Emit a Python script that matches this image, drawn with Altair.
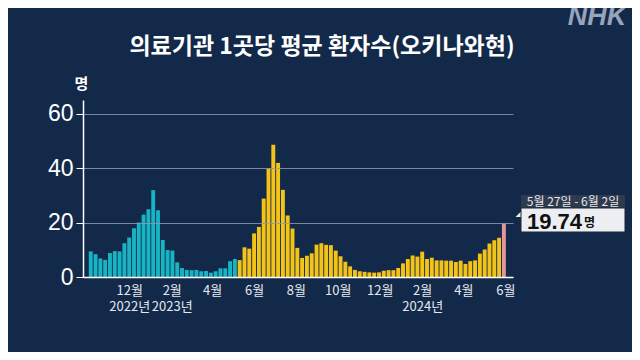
import altair as alt
import numpy as np
import pandas as pd

# ---------------- data ----------------
first_week_start = "2022-10-03"
n_weeks = 87
values = [
    9.4, 8.4, 6.8, 6.3, 8.8, 9.5, 9.4, 12.4, 14.5, 17.9, 20.0, 22.9, 24.9, 31.9, 24.5,
    13.6, 9.9, 9.7, 5.4, 3.3, 2.6, 2.5, 2.6, 2.1, 2.2, 1.6, 2.1, 3.2, 3.2, 5.8, 6.6,
    6.2, 10.9, 10.4, 16.0, 18.4, 28.8, 39.8, 48.6, 41.9,
    32.0, 22.6, 17.8, 10.7, 7.0, 7.8, 8.7, 11.9, 12.4, 11.8, 11.7, 9.7, 7.6, 5.6, 3.9,
    2.6, 2.1, 1.9,
    1.7, 1.6, 1.7, 2.3, 2.5, 2.5, 3.3, 5.0, 6.6, 7.9, 7.5, 9.3, 6.6, 7.1, 6.1, 6.1,
    6.0, 6.0, 5.5, 6.0, 4.8, 5.8, 6.1, 8.6, 10.1, 12.3, 13.5, 14.4, 19.74,
]
season_change = "2023-05-08"
group_names = ["before", "after", "latest"]
group_colors = ["#17b4c4", "#f3c318", "#e8949c"]

tick_dates = ["2022-12-01", "2023-02-01", "2023-04-01", "2023-06-01", "2023-08-01",
              "2023-10-01", "2023-12-01", "2024-02-01", "2024-04-01", "2024-06-01"]
tick_labels = [["12월", "2022년"], ["2월", "2023년"], ["4월"], ["6월"], ["8월"],
               ["10월"], ["12월"], ["2월", "2024년"], ["4월"], ["6월"]]
y_ticks = [0, 20, 40, 60]
x_domain = ["2022-10-02", "2024-06-05"]

title_text = "의료기관 1곳당 평균 환자수(오키나와현)"
unit_text = "명"
logo_text = "NHK"
annotation_period = "5월 27일 - 6월 2일"

# ---------------- build tables ----------------
starts = pd.date_range(first_week_start, periods=n_weeks, freq="7D")
df = pd.DataFrame({"start": starts, "value": values})
df["mid"] = (df["start"] + pd.Timedelta(days=3)).dt.strftime("%Y-%m-%d")
df["group"] = np.where(df["start"] < pd.Timestamp(season_change), "before", "after")
df.loc[df.index[-1], "group"] = "latest"
df = df.drop(columns=["start"])


def ms(d):
    return int(pd.Timestamp(d, tz="UTC").value // 10**6)


tick_ms = [ms(d) for d in tick_dates]


def js_label(lines):
    if len(lines) == 1:
        return "'" + lines[0] + "'"
    return "[" + ",".join("'" + s + "'" for s in lines) + "]"


label_expr = "''"
for t, lab in reversed(list(zip(tick_ms, tick_labels))):
    label_expr = f"(abs(time(datum.value) - {t}) < 3600000) ? {js_label(lab)} : ({label_expr})"

BG = "#13294a"
KR = "Noto Sans CJK KR"
NUM = "Liberation Sans"

bars = alt.Chart(df).mark_bar(width=3.9).encode(
    x=alt.X(
        "mid:T",
        scale=alt.Scale(type="utc", domain=[ms(x_domain[0]), ms(x_domain[1])]),
        axis=alt.Axis(
            values=tick_ms, labelExpr=label_expr, title=None, ticks=False, grid=False,
            domainColor="#ffffff", domainWidth=1.5, labelColor="#e4e8ee", labelFont=KR,
            labelFontSize=13, labelLineHeight=16, labelPadding=7, labelOverlap=False,
            labelFlush=False, zindex=1,
        ),
    ),
    y=alt.Y(
        "value:Q",
        scale=alt.Scale(domain=[0, 65], nice=False, zero=True),
        axis=alt.Axis(
            values=y_ticks, title=None, grid=True, gridColor="#8e98ab", gridWidth=1,
            gridOpacity=0.85, domainColor="#ffffff", domainWidth=1.5, tickColor="#ffffff",
            tickSize=7, labelColor="#ffffff", labelFont=NUM, labelFontSize=23,
            labelPadding=3, zindex=1,
        ),
    ),
    color=alt.Color("group:N", scale=alt.Scale(domain=group_names, range=group_colors),
                    legend=None),
)

ann = pd.DataFrame({
    "period": [annotation_period],
    "value": [f"{values[-1]:.2f}"],
    "unit": [unit_text],
    "title": [title_text],
    "logo": [logo_text],
})
base = alt.Chart(ann)

title = base.mark_text(font=KR, fontSize=23, fontWeight="bold", color="#ffffff",
                       align="center", baseline="middle").encode(
    x=alt.value(239), y=alt.value(-53), text="title:N")
logo = base.mark_text(font=NUM, fontSize=27, fontWeight=900, fontStyle="italic",
                      color="#98a4ba", align="center", baseline="middle").encode(
    x=alt.value(514), y=alt.value(-83), text="logo:N")
unit = base.mark_text(font=KR, fontSize=15, fontWeight="bold", color="#ffffff",
                      align="center", baseline="middle").encode(
    x=alt.value(-1.5), y=alt.value(-16), text="unit:N")

strip = base.mark_rect(color="#2f3a4c").encode(
    x=alt.value(438), x2=alt.value(542), y=alt.value(95), y2=alt.value(108))
box = base.mark_rect(fill="#eceef2", stroke="#1c2636", strokeWidth=1).encode(
    x=alt.value(438), x2=alt.value(542), y=alt.value(108), y2=alt.value(132))
pointer = base.mark_point(shape="M1,-1L1,1L-1,1Z", filled=True, size=25,
                          color="#eceef2", opacity=1).encode(
    x=alt.value(435), y=alt.value(114.5))
period_txt = base.mark_text(font=KR, fontSize=12, color="#e6e9ee", align="center",
                            baseline="middle").encode(
    x=alt.value(490), y=alt.value(101.5), text="period:N")
value_txt = base.mark_text(font=NUM, fontSize=22, fontWeight="bold", color="#111111",
                           align="left", baseline="alphabetic").encode(
    x=alt.value(444), y=alt.value(128.5), text="value:N")
unit_txt = base.mark_text(font=KR, fontSize=12, fontWeight="bold", color="#111111",
                          align="left", baseline="alphabetic").encode(
    x=alt.value(501), y=alt.value(126.5), text="unit:N")

chart = alt.layer(
    bars, title, logo, unit, strip, box, pointer, period_txt, value_txt, unit_txt
).properties(
    width=430, height=177,
    autosize=alt.AutoSizeParams(type="none"),
    padding={"left": 75, "top": 92, "right": 119, "bottom": 75},
    background=BG,
).configure_view(strokeWidth=0)

chart.save("out.html", embed_options={"renderer": "svg", "actions": False})
